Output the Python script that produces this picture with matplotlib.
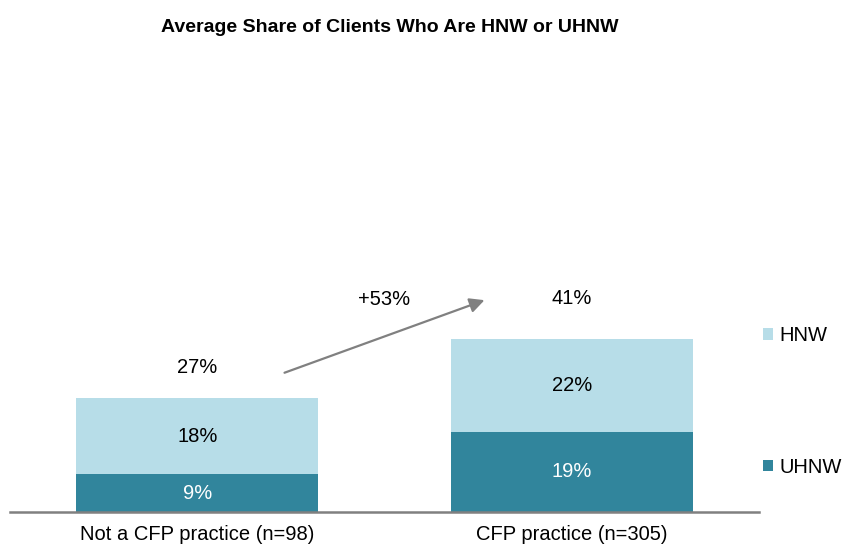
import matplotlib
matplotlib.use("Agg")
import matplotlib.pyplot as plt

plt.rcParams['font.family'] = ['Liberation Sans', 'DejaVu Sans']

categories = ["Not a CFP practice (n=98)", "CFP practice (n=305)"]
uhnw = [9, 19]
hnw = [18, 22]
totals = [27, 41]
growth_label = "+53%"
title = "Average Share of Clients Who Are HNW or UHNW"

c_hnw = "#B7DDE8"
c_uhnw = "#31859C"

FS = 14.5
W, H = 844, 547
fig = plt.figure(figsize=(W / 100, H / 100), dpi=100)
ax_left, ax_right = 10, 759
ax_bottom, ax_top = 512, 90
ax = fig.add_axes([ax_left / W, (H - ax_bottom) / H, (ax_right - ax_left) / W, (ax_bottom - ax_top) / H])

x = list(range(len(categories)))
width = 0.646
b1 = ax.bar(x, uhnw, width, color=c_uhnw, label="UHNW")
b2 = ax.bar(x, hnw, width, bottom=uhnw, color=c_hnw, label="HNW")

total_offsets = [7.3, 9.7]
for i in x:
    ax.text(i, uhnw[i] / 2, f"{uhnw[i]}%", ha="center", va="center", color="white", fontsize=FS)
    ax.text(i, uhnw[i] + hnw[i] / 2, f"{hnw[i]}%", ha="center", va="center", color="black", fontsize=FS)
    ax.text(i, totals[i] + total_offsets[i], f"{totals[i]}%", ha="center", va="center", color="black", fontsize=FS)

ax.set_xlim(-0.5, 1.5)
ax.set_ylim(0, 100)
for s in ["top", "right", "left"]:
    ax.spines[s].set_visible(False)
ax.spines["bottom"].set_color("#808080")
ax.spines["bottom"].set_linewidth(1.8)
ax.set_yticks([])
ax.set_xticks(x)
ax.set_xticklabels(categories, fontsize=FS)
ax.tick_params(axis="x", length=0, pad=9)

# growth arrow
ax.annotate("", xy=(0.767, 50.2), xytext=(0.233, 33.0),
            arrowprops=dict(arrowstyle="-|>", color="#808080", lw=1.6, mutation_scale=22, shrinkA=0, shrinkB=0))
ax.text(0.5, 50.4, growth_label, ha="center", va="center", fontsize=FS)

fig.text(390 / W, 1 - 28 / H, title, ha="center", va="center", fontsize=14, fontweight="bold")

leg = fig.legend(handles=[b2, b1], labels=["HNW", "UHNW"], loc="upper left",
                 bbox_to_anchor=(755 / W, 1 - 318 / H), frameon=False, fontsize=FS,
                 handlelength=0.5, handleheight=0.5, handletextpad=0.3, labelspacing=5.6,
                 borderaxespad=0, borderpad=0.4)

fig.savefig("out.png", dpi=100)
